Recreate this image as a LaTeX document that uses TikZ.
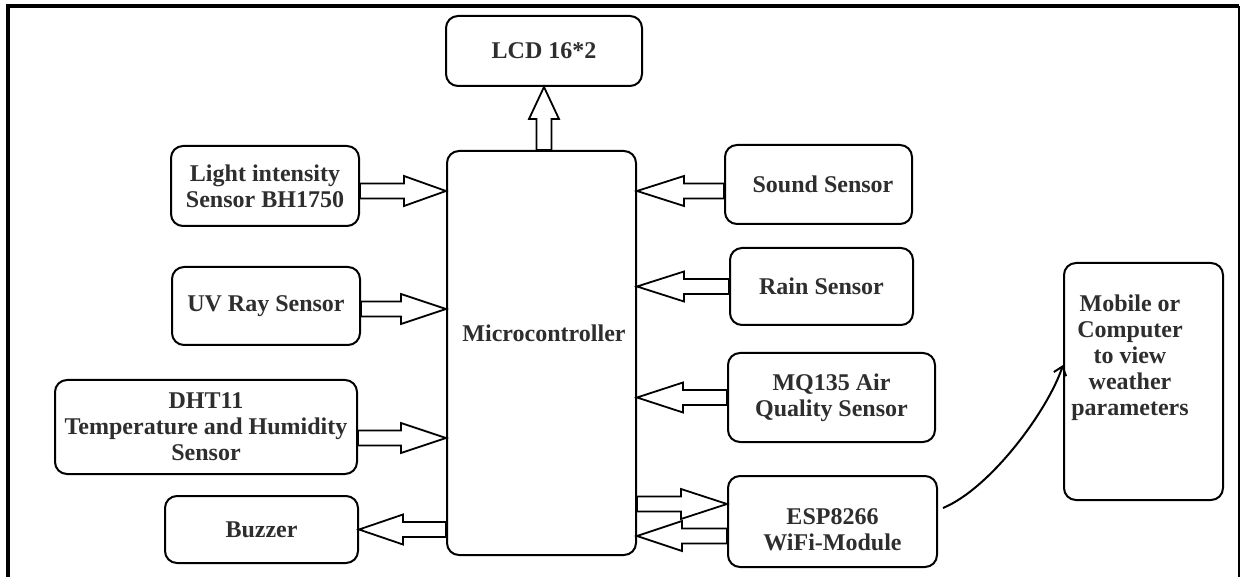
\documentclass[tikz,border=0pt]{standalone}
\usepackage{fontspec}
\setmainfont{Liberation Serif}
\usetikzlibrary{calc,arrows.meta}
\newcommand\lblfont{\fontsize{24}{26}\selectfont\bfseries}
\tikzset{
  box/.style={draw=black, line width=2pt, rounded corners=12pt, fill=white,
    inner sep=0pt, align=center, font=\lblfont, text=black!82},
  lbl/.style={inner sep=0pt, align=center, font=\lblfont, text=black!82},
  blockarrow/.style={draw=black, line width=1.8pt, fill=white, line join=miter},
  frame/.style={draw=black, line join=miter},
  link/.style={line width=2pt, -{Straight Barb[length=8pt,width=13pt,line width=2pt]}},
}
\newcommand\barrow[3][45pt]{%
  \coordinate (ba-a) at (#2);
  \coordinate (ba-b) at (#3);
  \coordinate (ba-h) at ($(ba-b)!#1!(ba-a)$);
  \draw[blockarrow] ($(ba-a)!7.5pt!90:(ba-b)$) -- ($(ba-h)!7.5pt!90:(ba-b)$)
    -- ($(ba-h)!15pt!90:(ba-b)$) -- (ba-b) -- ($(ba-h)!15pt!-90:(ba-b)$)
    -- ($(ba-h)!7.5pt!-90:(ba-b)$) -- ($(ba-a)!7.5pt!-90:(ba-b)$) -- cycle;
}
\begin{document}
\begin{tikzpicture}[x=1pt,y=-1pt]
\useasboundingbox (0,0) rectangle (1243,577);
\fill[white] (0,0) rectangle (1243,577);
% frame
\draw[frame, line width=4pt] (8,577) -- (8,6) -- (1239,6);
\draw[frame, line width=2pt] (1239,6) -- (1239,577);

% boxes
\node[box, minimum width=196pt, minimum height=70pt] (lcd) at (544,51) {LCD 16*2};
\node[box, minimum width=189pt, minimum height=404pt] (micro) at (541.5,353) {};
\node[lbl] (microlbl) at (544,333) {Microcontroller};

\node[box, minimum width=188pt, minimum height=80pt] (light) at (265,186) {Light intensity\\Sensor BH1750};
\node[box, minimum width=188pt, minimum height=78pt] (uv) at (266,306) {UV Ray Sensor};
\node[box, minimum width=302pt, minimum height=94pt] (dht) at (206,427) {DHT11\\Temperature and Humidity\\Sensor};
\node[box, minimum width=193pt, minimum height=67pt] (buzzer) at (261.5,529.5) {Buzzer};

\node[box, minimum width=187pt, minimum height=79pt] (sound) at (818.5,184.5) {\hspace*{9pt}Sound Sensor};
\node[box, minimum width=183pt, minimum height=77pt] (rain) at (821.5,286.5) {Rain Sensor};
\node[box, minimum width=207pt, minimum height=89pt] (mq) at (831.5,397.5) {MQ135 Air\\Quality Sensor};
\node[box, minimum width=209pt, minimum height=91pt] (esp) at (832.5,521.5) {};
\node[lbl] (esplbl) at (832.5,530) {ESP8266\\WiFi-Module};

\node[box, minimum width=159pt, minimum height=237pt] (mobile) at (1143.5,381.5) {};
\node[lbl] (mobilelbl) at (1130,358) {Mobile or\\Computer\\to view\\weather\\parameters};

% block arrows
\coordinate (a-lcd) at (lcd.south |- micro.north);
\barrow[32pt]{a-lcd}{lcd.south}

\coordinate (a-light) at ($(light.east)+(0,5)$);
\barrow[42pt]{a-light}{micro.west |- a-light}
\coordinate (a-uv) at ($(uv.east)+(0,3)$);
\barrow[45pt]{a-uv}{micro.west |- a-uv}
\coordinate (a-dht) at ($(dht.east)+(0,11)$);
\barrow[45pt]{a-dht}{micro.west |- a-dht}
\barrow[44pt]{micro.west |- buzzer.east}{buzzer.east}

\coordinate (a-sound) at ($(sound.west)+(0,6.5)$);
\barrow[47pt]{a-sound}{micro.east |- a-sound}
\barrow[47pt]{rain.west}{micro.east |- rain.west}
\barrow[46pt]{mq.west}{micro.east |- mq.west}
\coordinate (a-esp1) at ($(esp.west)+(0,-17.5)$);
\barrow[46pt]{micro.east |- a-esp1}{a-esp1}
\coordinate (a-esp2) at ($(esp.west)+(0,14.5)$);
\barrow[45pt]{a-esp2}{micro.east |- a-esp2}

% curved link
\coordinate (cs) at ($(esp.east)+(5,-13.5)$);
\coordinate (ce) at ($(mobile.west)+(0,-16.5)$);
\draw[link] (cs) .. controls +(48,-20) and +(-15,45) .. (ce);
\end{tikzpicture}
\end{document}
